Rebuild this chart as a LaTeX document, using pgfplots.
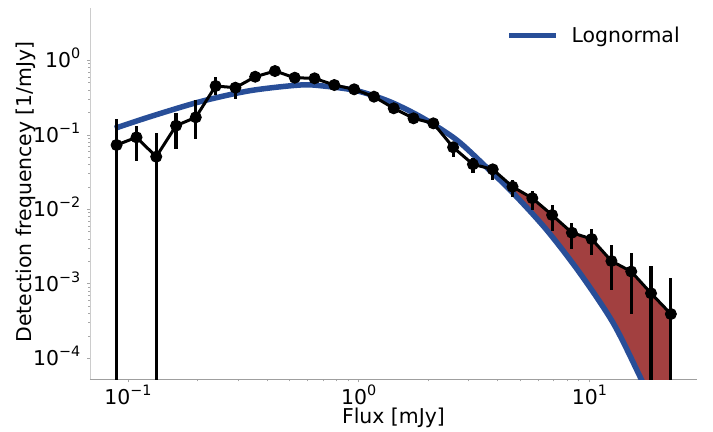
\documentclass[border=0pt]{standalone}
\usepackage{pgfplots}
\pgfplotsset{compat=1.18}
\usepackage{pgfplotstable}
\usepackage{fontspec}
\setmainfont{DejaVu Sans}
\definecolor{lnblue}{RGB}{40,78,152}
\definecolor{excess}{RGB}{162,64,64}
\newcommand{\tp}[1]{10\raisebox{0.45em}{\fontsize{14.4}{14}\selectfont #1}}

\pgfplotstableread{
x       y        ep        em
0.0892  0.0730   0.0885    0.072999
0.1088  0.0925   0.0385    0.0480
0.1325  0.0508   0.0559    0.050799
0.1615  0.1325   0.0619    0.0680
0.1967  0.1718   0.1212    0.0848
0.2397  0.452    0.139     0.110
0.2921  0.429    0.052     0.126
0.3558  0.602    0.060     0.055
0.4336  0.718    0.060     0.050
0.5284  0.584    0.050     0.045
0.6437  0.573    0.050     0.045
0.7843  0.466    0.040     0.035
0.9559  0.408    0.035     0.030
1.165   0.325    0.030     0.027
1.419   0.227    0.022     0.020
1.729   0.1665   0.018     0.016
2.107   0.1426   0.016     0.014
2.567   0.0680   0.0128    0.0172
3.129   0.0402   0.0082    0.0098
3.812   0.0344   0.0062    0.0097
4.645   0.0201   0.0046    0.0056
5.660   0.0141   0.0037    0.0043
6.897   0.00838  0.00304   0.00322
8.403   0.00485  0.00176   0.00195
10.24   0.00399  0.00140   0.00155
12.47   0.00202  0.00130   0.001194
15.20   0.00146  0.00111   0.00107
18.52   0.000745 0.001005  0.000744
22.57   0.000393 0.000817  0.000392
}\datatable

\begin{document}
\begin{tikzpicture}
\useasboundingbox (-90bp,-52.7bp) rectangle (623bp,371.3bp+8bp);
\begin{axis}[
  xmode=log, ymode=log,
  scale only axis, width=607bp, height=371.3bp,
  xmin=0.0684, xmax=29.3, ymin=5.22e-5, ymax=5.04,
  axis x line*=bottom, axis y line*=left,
  x axis line style={-, gray!75, line width=0.8bp},
  y axis line style={-, gray!40, line width=0.8bp},
  tick align=outside,
  major tick length=3bp, minor tick length=2bp,
  every tick/.style={gray!70, line width=0.6bp},
  xtick={0.1,1,10},
  xticklabels={\tp{−1},\tp{0},\tp{1}},
  ytick={1e-4,1e-3,1e-2,1e-1,1},
  yticklabels={\tp{−4},\tp{−3},\tp{−2},\tp{−1},\tp{0}},
  tick label style={font=\fontsize{20.5}{24}\selectfont},
  xticklabel style={anchor=base, inner sep=0pt, yshift=-22.4bp},
  yticklabel style={anchor=base east, inner sep=0pt, xshift=-6.5bp, yshift=-7.5bp},
  xlabel={Flux [mJy]},
  ylabel={Detection frequencey [1/mJy]},
  label style={font=\fontsize{20.5}{24}\selectfont},
  xlabel style={at={(axis description cs:0.5,0)}, anchor=base, inner sep=0pt, yshift=-44bp},
  ylabel style={at={(axis description cs:-0.096,0.505)}, anchor=base, inner sep=0pt, rotate=0},
  legend style={draw=none, fill=none, font=\fontsize{20.5}{24}\selectfont,
    at={(axis description cs:0.980,0.960)}, anchor=north east,
    /tikz/every odd column/.append style={column sep=11bp}},
  legend image code/.code={\draw[#1, line width=5.5bp] (0bp,0bp) -- (46.6bp,0bp);},
  clip=true,
]
% excess region between measured counts and lognormal model
\addplot[fill=excess, draw=none, forget plot] coordinates {
  (3.812,0.0344) (4.645,0.0201) (5.660,0.0141) (6.897,0.00838) (8.403,0.00485)
  (10.24,0.00399) (12.47,0.00202) (15.20,0.00146) (18.52,0.000745) (22.57,0.000393)
  (22.57,6.8e-6) (18.52,2.7e-5) (15.20,9.7e-5) (12.47,0.000321) (10.24,0.000805)
  (8.403,0.00192) (6.897,0.00425) (5.660,0.00861) (4.645,0.0168) (3.812,0.0304)
} -- cycle;
% lognormal model
\addplot[lnblue, line width=5.5bp, smooth] coordinates {
  (0.0877,0.1222) (0.1245,0.175) (0.2050,0.278) (0.3377,0.391) (0.5566,0.466)
  (0.7023,0.452) (0.980,0.391) (1.367,0.278) (1.906,0.1665) (2.661,0.0852)
  (3.590,0.0364) (4.681,0.0164) (6.536,0.00527) (9.113,0.001383) (12.71,0.000295)
  (16.59,5.66e-5) (18.62,2.6e-5) (22.57,7.1e-6)
};
\addlegendentry{Lognormal}
% measured detection frequency
\addplot[black, line width=3bp, mark=*, mark size=5.5bp,
  mark options={solid, fill=black, draw=black, line width=1bp},
  error bars/.cd, y dir=both, y explicit, error mark=none,
  error bar style={line width=3.2bp, black}]
  table[x=x, y=y, y error plus=ep, y error minus=em] {\datatable};
\end{axis}
\end{tikzpicture}
\end{document}
